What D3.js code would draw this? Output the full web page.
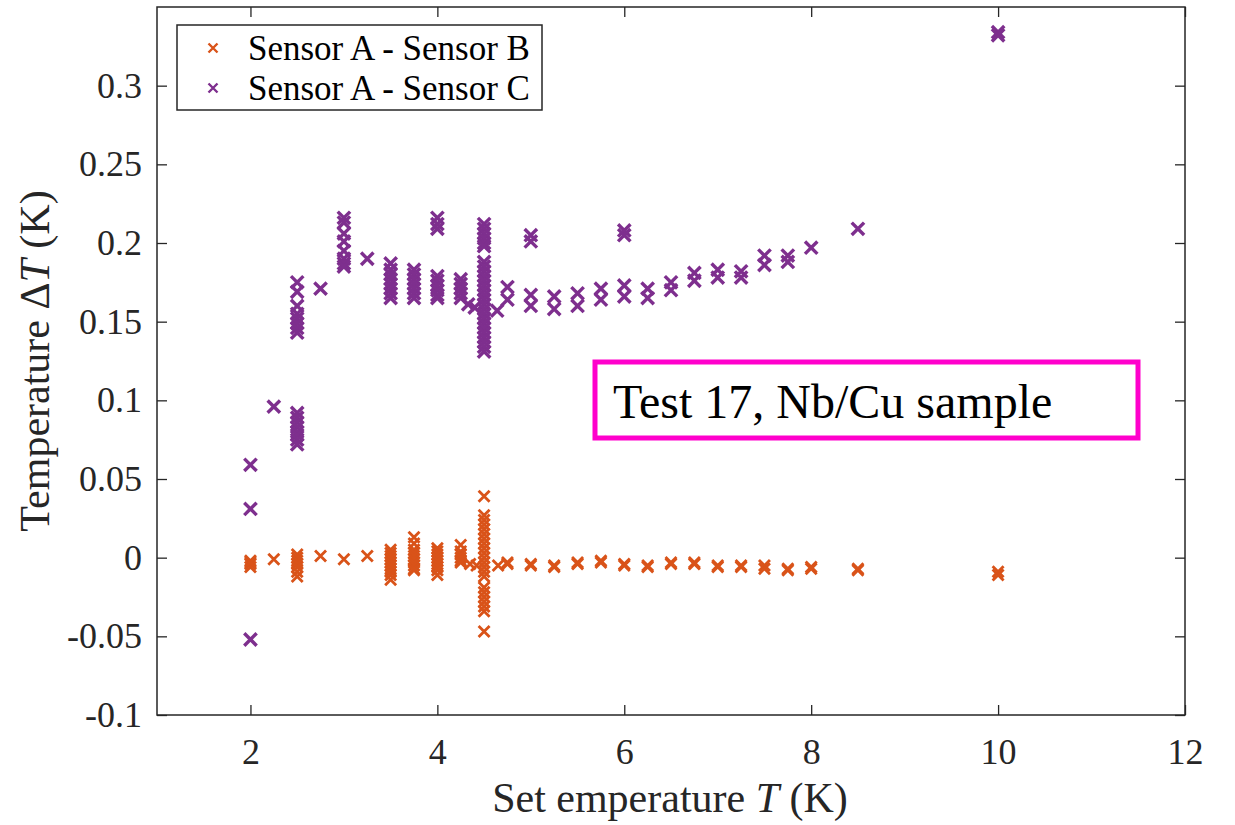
<!DOCTYPE html>
<html>
<head>
<meta charset="utf-8">
<script src="https://cdn.jsdelivr.net/npm/d3@7"></script>
</head>
<body style="margin:0;background:#fff">
<div id="chart"></div>
<script>
// set temperatures (K) and the measured differences at each one (K)
const setPointsAB = [2, 2.25, 2.5, 2.75, 3, 3.25, 3.5, 3.75, 4, 4.25, 4.35, 4.42, 4.5, 4.65, 4.75,
  5, 5.25, 5.5, 5.75, 6, 6.25, 6.5, 6.75, 7, 7.25, 7.5, 7.75, 8, 8.5, 10];
const diffAB = [
  [-0.002, -0.004, -0.006, -0.003],
  [-0.001],
  [0.002, 0.0, -0.002, -0.004, -0.006, -0.009, -0.012],
  [0.001],
  [-0.001],
  [0.001],
  [0.005, 0.003, 0.001, -0.001, -0.003, -0.005, -0.007, -0.009, -0.011, -0.014],
  [0.013, 0.009, 0.005, 0.003, 0.001, -0.001, -0.003, -0.005, -0.007, -0.008],
  [0.006, 0.004, 0.002, 0.0, -0.002, -0.004, -0.006, -0.008, -0.011],
  [0.008, 0.004, 0.002, 0.0, -0.002, -0.003],
  [-0.004],
  [-0.005],
  [0.039, 0.027, 0.024, 0.021, 0.018, 0.015, 0.012, 0.009, 0.006, 0.003, 0.0, -0.003, -0.006,
    -0.009, -0.012, -0.019, -0.022, -0.025, -0.028, -0.031, -0.034, -0.047],
  [-0.005],
  [-0.003, -0.004],
  [-0.004, -0.005],
  [-0.005, -0.006],
  [-0.003, -0.004],
  [-0.002, -0.003],
  [-0.004, -0.005],
  [-0.005, -0.006],
  [-0.003, -0.004],
  [-0.003, -0.004],
  [-0.005, -0.006],
  [-0.005, -0.006],
  [-0.005, -0.007],
  [-0.007, -0.008],
  [-0.006, -0.007],
  [-0.007, -0.008],
  [-0.009, -0.011]
];

const setPointsAC = [2, 2.25, 2.5, 2.75, 3, 3.25, 3.5, 3.75, 4, 4.25, 4.33, 4.4, 4.5, 4.64, 4.75,
  5, 5.25, 5.5, 5.75, 6, 6.25, 6.5, 6.75, 7, 7.25, 7.5, 7.75, 8, 8.5, 10];
const diffAC = [
  [0.059, 0.031, -0.052],
  [0.096],
  [0.175, 0.169, 0.160, 0.155, 0.152, 0.149, 0.146, 0.143,
    0.092, 0.089, 0.086, 0.083, 0.080, 0.078, 0.075, 0.072],
  [0.171],
  [0.216, 0.213, 0.206, 0.201, 0.195, 0.190, 0.187, 0.185],
  [0.190],
  [0.187, 0.183, 0.180, 0.177, 0.174, 0.171, 0.168, 0.165],
  [0.183, 0.180, 0.177, 0.174, 0.171, 0.168, 0.165],
  [0.216, 0.212, 0.209, 0.179, 0.176, 0.173, 0.170, 0.167, 0.165],
  [0.177, 0.174, 0.171, 0.168, 0.165],
  [0.161],
  [0.159],
  [0.212, 0.209, 0.206, 0.203, 0.200, 0.198,
    0.188, 0.185, 0.182, 0.179, 0.176, 0.173, 0.170, 0.167, 0.164, 0.161, 0.158, 0.155,
    0.152, 0.149, 0.146, 0.143, 0.140, 0.137, 0.134, 0.131],
  [0.157],
  [0.172, 0.164],
  [0.205, 0.201, 0.167, 0.160],
  [0.166, 0.158],
  [0.168, 0.160],
  [0.171, 0.164],
  [0.208, 0.205, 0.173, 0.166],
  [0.171, 0.165],
  [0.175, 0.170],
  [0.181, 0.176],
  [0.183, 0.178],
  [0.182, 0.178],
  [0.192, 0.186],
  [0.192, 0.188],
  [0.197],
  [0.209],
  [0.334, 0.332]
];

const seriesNames = ['Sensor A - Sensor B', 'Sensor A - Sensor C'];
const seriesColors = ['#D95319', '#7E2F8E'];

const xTicks = [2, 4, 6, 8, 10, 12];
const xTickLabels = ['2', '4', '6', '8', '10', '12'];
const yTicks = [-0.1, -0.05, 0, 0.05, 0.1, 0.15, 0.2, 0.25, 0.3];
const yTickLabels = ['-0.1', '-0.05', '0', '0.05', '0.1', '0.15', '0.2', '0.25', '0.3'];

const W = 1235, H = 825;
const plotL = 157, plotR = 1185, plotT = 7, plotB = 715;
const FONT = "'Liberation Serif', Tinos, 'Times New Roman', Times, serif";

const x = d3.scaleLinear().domain([1, 12]).range([plotL, plotR]);
const y = d3.scaleLinear().domain([-0.1, 0.35]).range([plotB, plotT]);

const svg = d3.select('#chart').append('svg')
  .attr('width', W).attr('height', H);

svg.append('rect').attr('width', W).attr('height', H).attr('fill', '#fff');

function flatten(setPoints, diffs, s){
  let out = [];
  for (let i = 0; i < setPoints.length; i++){
    diffs[i].forEach(v => out.push({t: setPoints[i], v: v, s: s}));
  }
  return out;
}

const points = flatten(setPointsAB, diffAB, 0).concat(flatten(setPointsAC, diffAC, 1));

// x marker path
function cross(r){
  return `M${-r},${-r}L${r},${r}M${-r},${r}L${r},${-r}`;
}
const markR = [5.5, 6.2];
const markW = [2.8, 3.4];

svg.append('g').selectAll('path.pt')
  .data(points)
  .enter().append('path')
  .attr('class', 'pt')
  .attr('transform', d => `translate(${x(d.t)},${y(d.v)})`)
  .attr('d', d => cross(markR[d.s]))
  .attr('fill', 'none')
  .attr('stroke', d => seriesColors[d.s])
  .attr('stroke-width', d => markW[d.s]);

// axes, ticks pointing in on all four sides
const axisColor = '#262626';
const gx = svg.append('g').attr('transform', `translate(0,${plotB})`)
  .call(d3.axisBottom(x).tickValues(xTicks).tickFormat((d, i) => xTickLabels[i])
    .tickSizeInner(-10).tickSizeOuter(0).tickPadding(23));
const gxt = svg.append('g').attr('transform', `translate(0,${plotT})`)
  .call(d3.axisTop(x).tickValues(xTicks).tickFormat('').tickSizeInner(-10).tickSizeOuter(0));
const gy = svg.append('g').attr('transform', `translate(${plotL},0)`)
  .call(d3.axisLeft(y).tickValues(yTicks).tickFormat((d, i) => yTickLabels[i])
    .tickSizeInner(-10).tickSizeOuter(0).tickPadding(15));
const gyr = svg.append('g').attr('transform', `translate(${plotR},0)`)
  .call(d3.axisRight(y).tickValues(yTicks).tickFormat('').tickSizeInner(-10).tickSizeOuter(0));

[gx, gxt, gy, gyr].forEach(g => {
  g.attr('font-family', FONT).attr('font-size', 36);
  g.select('.domain').remove();
  g.selectAll('line').attr('stroke', axisColor).attr('stroke-width', 1.3);
  g.selectAll('text').attr('font-family', FONT).attr('font-size', 36).attr('fill', axisColor);
});

svg.append('rect')
  .attr('x', plotL).attr('y', plotT)
  .attr('width', plotR - plotL).attr('height', plotB - plotT)
  .attr('fill', 'none').attr('stroke', axisColor).attr('stroke-width', 1.5);

// axis titles
const xl = svg.append('text')
  .attr('x', 670).attr('y', 812)
  .attr('text-anchor', 'middle').attr('font-family', FONT)
  .attr('font-size', 42).attr('fill', axisColor);
xl.append('tspan').text('Set emperature ');
xl.append('tspan').attr('font-style', 'italic').text('T');
xl.append('tspan').text(' (K)');

const yl = svg.append('text')
  .attr('transform', 'translate(49,361) rotate(-90)')
  .attr('text-anchor', 'middle').attr('font-family', FONT)
  .attr('font-size', 42).attr('fill', axisColor);
yl.append('tspan').text('Temperature \u0394');
yl.append('tspan').attr('font-style', 'italic').text('T');
yl.append('tspan').text(' (K)');

// legend
const lg = svg.append('g');
lg.append('rect')
  .attr('x', 177).attr('y', 25).attr('width', 365).attr('height', 85)
  .attr('fill', '#fff').attr('stroke', axisColor).attr('stroke-width', 1.5);
seriesNames.forEach((name, i) => {
  const ly = 48 + i * 40;
  lg.append('path')
    .attr('transform', `translate(213,${ly})`)
    .attr('d', cross(4.5))
    .attr('fill', 'none').attr('stroke', seriesColors[i]).attr('stroke-width', 2.4);
  lg.append('text')
    .attr('x', 248).attr('y', ly + 12)
    .attr('font-family', FONT).attr('font-size', 35).attr('fill', '#000')
    .text(name);
});

// annotation box
svg.append('rect')
  .attr('x', 595).attr('y', 362).attr('width', 543).attr('height', 76)
  .attr('fill', '#fff').attr('stroke', '#ff00cc').attr('stroke-width', 5);
svg.append('text')
  .attr('x', 613).attr('y', 418)
  .attr('font-family', FONT).attr('font-size', 48).attr('fill', '#000')
  .text('Test 17, Nb/Cu sample');
</script>
</body>
</html>
